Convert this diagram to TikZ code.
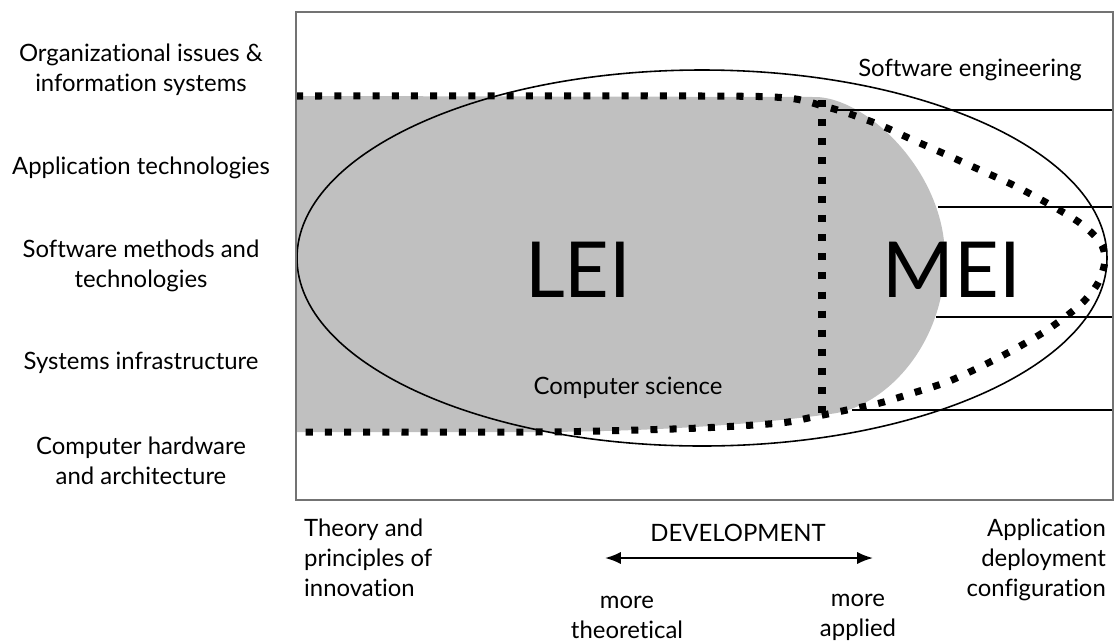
\documentclass[tikz,border=0pt]{standalone}
\usepackage{fontspec}
\setmainfont{Lato}[Ligatures=NoCommon]
\usepackage{tikz}
\usetikzlibrary{arrows.meta}
\definecolor{leigray}{RGB}{192,192,192}
\definecolor{framegray}{RGB}{115,115,115}
\tikzset{
  label/.style={align=center, font=\fontsize{13.6}{17}\selectfont},
  biglabel/.style={font=\fontsize{44}{44}\selectfont},
  bigdots/.style={line width=4pt, dash pattern=on 4pt off 6.9pt},
  layerline/.style={line width=0.8pt},
}
\begin{document}
\begin{tikzpicture}[x=0.02cm,y=-0.02cm]
\useasboundingbox (0,0) rectangle (1115,643);
% shaded LEI region
\fill[leigray] (296,96) -- (815,97) .. controls (865,97) and (945,170) .. (945,258)
  .. controls (945,345) and (885,408) .. (830,414)
  .. controls (760,424) and (650,432) .. (530,432) -- (296,432) -- cycle;
% layer boundaries on the right
\draw[layerline] (835,110) -- (1113,110);
\draw[layerline] (938,207) -- (1113,207);
\draw[layerline] (936,317) -- (1113,317);
\draw[layerline] (852,410) -- (1113,410);
% computer science ellipse
\draw[line width=0.9pt] (702,258) ellipse [x radius=405, y radius=188];
% MEI boundary
\draw[bigdots] plot[smooth] coordinates {(296,96) (700,96) (787,98) (823,106) (847,113)
  (880,125) (913,140) (947,155) (980,170) (1013,185) (1047,203) (1080,223)
  (1100,242) (1105,260) (1098,283) (1080,305) (1047,330) (1013,350) (980,367)
  (947,382) (913,393) (880,403) (847,410) (813,417) (780,423) (700,428)
  (600,431) (530,432) (296,432)};
\draw[bigdots] (822,100) -- (822,415);
% frame
\draw[framegray, line width=1.6pt] (296,12) rectangle (1113,500);
% left labels
\node[label] (orgissues) at (141,70) {Organizational issues \&\\information systems};
\node[label] (apptech) at (141,168) {Application technologies};
\node[label] (swmethods) at (141,266) {Software methods and\\technologies};
\node[label] (sysinfra) at (141,363) {Systems infrastructure};
\node[label] (hardware) at (141,461) {Computer hardware\\and architecture};
% region labels
\node[label] (sweng) at (970,70) {Software engineering};
\node[label] (csci) at (628,388) {Computer science};
\node[biglabel] (lei) at (578,270) {LEI};
\node[biglabel] (mei) at (952,270) {MEI};
% bottom axis
\node[label, align=left, anchor=north west] (theory) at (298,513) {Theory and\\principles of\\innovation};
\node[label, align=right, anchor=north east] (deploy) at (1112,513) {Application\\deployment\\configuration};
\node[label] (devel) at (738,533) {DEVELOPMENT};
\coordinate (devleft) at (605,558);
\coordinate (devright) at (873,558);
\draw[{Latex[length=9pt,width=7pt]}-{Latex[length=9pt,width=7pt]}, line width=1.2pt] (devleft) -- (devright);
\node[label] (moretheo) at (627,617) {more\\theoretical};
\node[label] (moreappl) at (858,617) {more\\applied};
\end{tikzpicture}
\end{document}
